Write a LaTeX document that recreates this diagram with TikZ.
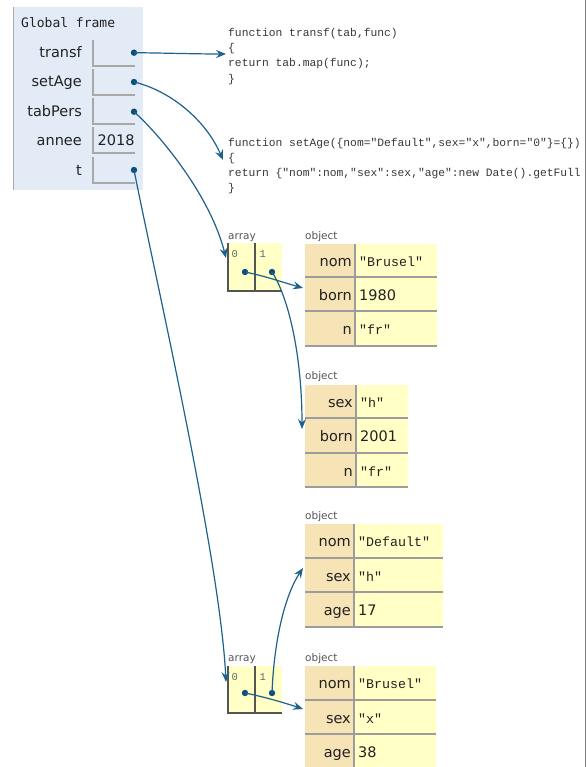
\documentclass[tikz,border=0pt]{standalone}
\usepackage{fontspec}
\setmainfont{DejaVu Sans}
\setmonofont{Liberation Mono}
\newfontfamily\titlefont{DejaVu Sans Mono}
\usetikzlibrary{arrows.meta}
\definecolor{framebg}{HTML}{E2EBF6}
\definecolor{keybg}{HTML}{F6E3B6}
\definecolor{valbg}{HTML}{FFFFC6}
\definecolor{arrowc}{HTML}{1E628C}
\definecolor{dotc}{HTML}{0B4E7A}
\definecolor{boxbd}{HTML}{A8A8A8}
\definecolor{sepc}{HTML}{9C9C9C}
\definecolor{arrbd}{HTML}{555555}
\definecolor{txtc}{HTML}{222222}
\definecolor{codec}{HTML}{383838}
\definecolor{lblc}{HTML}{555555}
\definecolor{idxc}{HTML}{666666}
\newcommand\pyrow[8]{%
  \fill[keybg] (#2,#5) rectangle (#3,#6);
  \fill[valbg] (#3,#5) rectangle (#4,#6);
  \draw[sepline] (#3,#5) -- (#3,#6);
  \draw[sepline] (#2,#6-0.8) -- (#4,#6-0.8);
  \node[keytxt] (#1k) at (#3-3,{(#5+#6)/2+5.3}) {#7};
  \node[valtxt] (#1v) at (#3+4,{(#5+#6)/2+5.3}) {#8};
}
\begin{document}
\begin{tikzpicture}[x=1pt,y=-1pt,
  vname/.style={anchor=base east,font=\fontsize{14.5}{17}\selectfont,text=txtc,inner sep=0pt},
  keytxt/.style={anchor=base east,font=\fontsize{14.5}{17}\selectfont,text=txtc,inner sep=0pt},
  valtxt/.style={anchor=base west,font=\fontsize{14.5}{17}\selectfont,text=txtc,inner sep=0pt},
  codeln/.style={anchor=base west,font=\ttfamily\fontsize{11.3}{13}\selectfont,text=codec,inner sep=0pt},
  typelbl/.style={anchor=base west,font=\fontsize{10.5}{12}\selectfont,text=lblc,inner sep=0pt},
  idxlbl/.style={anchor=base west,font=\ttfamily\fontsize{10.5}{12}\selectfont,text=idxc,inner sep=0pt},
  dot/.style={circle,fill=dotc,inner sep=0pt,minimum size=6.4pt},
  ptr/.style={draw=arrowc,line width=1.2pt,-{Stealth[length=10pt,width=8pt,inset=3.5pt]}},
  boxline/.style={draw=boxbd,line width=1.3pt},
  sepline/.style={draw=sepc,line width=1.6pt},
  arrline/.style={draw=arrbd,line width=1.2pt}]
\useasboundingbox (0,0) rectangle (587,767);
\fill[white] (0,0) rectangle (587,767);
\draw[draw=gray,line width=1pt] (585.5,0) -- (585.5,767);

% ---- Global frame ----
\fill[framebg] (13,7) rectangle (143,190);
\draw[boxline] (13.6,7) -- (13.6,190);
\node[anchor=base west,font=\titlefont\fontsize{13}{15}\selectfont,text=txtc,inner sep=0pt] (gf) at (21,27.5) {Global frame};

\draw[boxline] (93,40) -- (93,66) -- (135,66);
\draw[boxline] (93,69) -- (93,95) -- (135,95);
\draw[boxline] (93,98) -- (93,124) -- (135,124);
\draw[boxline] (93,127) -- (93,153) -- (135,153);
\draw[boxline] (93,157) -- (93,183) -- (135,183);

\node[vname] (vtransf) at (82,58) {transf};
\node[vname] (vsetage) at (82,87) {setAge};
\node[vname] (vtabpers) at (82,117) {tabPers};
\node[vname] (vannee) at (82,146) {annee};
\node[vname] (vt) at (82,175.3) {t};
\node[valtxt] (vanneeval) at (97.5,146) {2018};

\node[dot] (dtransf) at (134,52.7) {};
\node[dot] (dsetage) at (134,82) {};
\node[dot] (dtabpers) at (134,111.7) {};
\node[dot] (dt) at (134,170) {};

% ---- code of the functions ----
\node[codeln] (c11) at (228,36.5) {function transf(tab,func)};
\node[codeln] (c12) at (228,51.7) {\{};
\node[codeln] (c13) at (228,66.9) {return tab.map(func);};
\node[codeln] (c14) at (228,82.1) {\}};

\node[codeln] (c21) at (228,146.2) {function setAge(\{nom="Default",sex="x",born="0"\}=\{\})};
\node[codeln] (c22) at (228,161.4) {\{};
\node[codeln] (c23) at (228,176.6) {return \{"nom":nom,"sex":sex,"age":new Date().getFull};
\node[codeln] (c24) at (228,191.8) {\}};

% ---- array 1 ----
\node[typelbl] (lblarr1) at (228,239.5) {array};
\fill[valbg] (228,243) rectangle (282,291);
\draw[arrline] (228,243) -- (228,291) -- (282,291);
\draw[arrline] (255,243) -- (255,291);
\node[idxlbl] (a1i0) at (231.5,257) {0};
\node[idxlbl] (a1i1) at (259.5,257) {1};
\node[dot] (a1d0) at (245,272) {};
\node[dot] (a1d1) at (272,272) {};

% ---- object 1 ----
\node[typelbl] (lblobj1) at (305,239.5) {object};
\pyrow{oa}{305}{355}{437}{244}{278}{nom}{\ttfamily\fontsize{13.3}{16}\selectfont"Brusel"}
\pyrow{ob}{305}{355}{437}{278}{312}{born}{1980}
\pyrow{oc}{305}{355}{437}{312}{347}{n}{\ttfamily\fontsize{13.3}{16}\selectfont"fr"}

% ---- object 2 ----
\node[typelbl] (lblobj2) at (305,379) {object};
\pyrow{pa}{305}{356}{408}{385}{419}{sex}{\ttfamily\fontsize{13.3}{16}\selectfont"h"}
\pyrow{pb}{305}{356}{408}{419}{454}{born}{2001}
\pyrow{pc}{305}{356}{408}{454}{488}{n}{\ttfamily\fontsize{13.3}{16}\selectfont"fr"}

% ---- object 3 ----
\node[typelbl] (lblobj3) at (305,519) {object};
\pyrow{qa}{305}{354}{443}{524}{559}{nom}{\ttfamily\fontsize{13.3}{16}\selectfont"Default"}
\pyrow{qb}{305}{354}{443}{559}{593}{sex}{\ttfamily\fontsize{13.3}{16}\selectfont"h"}
\pyrow{qc}{305}{354}{443}{593}{628}{age}{17}

% ---- array 2 ----
\node[typelbl] (lblarr2) at (228,661.5) {array};
\fill[valbg] (228,666) rectangle (282,713);
\draw[arrline] (228,666) -- (228,713) -- (282,713);
\draw[arrline] (255,666) -- (255,713);
\node[idxlbl] (a2i0) at (231.5,680) {0};
\node[idxlbl] (a2i1) at (259.5,680) {1};
\node[dot] (a2d0) at (245,693) {};
\node[dot] (a2d1) at (272,693) {};

% ---- object 4 ----
\node[typelbl] (lblobj4) at (305,661.5) {object};
\pyrow{ra}{305}{354}{436}{666}{701}{nom}{\ttfamily\fontsize{13.3}{16}\selectfont"Brusel"}
\pyrow{rb}{305}{354}{436}{701}{735}{sex}{\ttfamily\fontsize{13.3}{16}\selectfont"x"}
\pyrow{rc}{305}{354}{436}{735}{769}{age}{38}

% ---- arrow targets ----
\coordinate (ttransf) at (226,54);
\coordinate (tsetage) at (223,160);
\coordinate (ttab) at (226,258);
\coordinate (tt) at (226,682);
\coordinate (ta1c0) at (303,288);
\coordinate (ta1c1) at (302,429);
\coordinate (ta2c0) at (303,709);
\coordinate (ta2c1) at (303,568);

% ---- pointers ----
\draw[ptr] (dtransf.center) .. controls (165,53) and (195,54) .. (ttransf);
\draw[ptr] (dsetage.center) .. controls (168,90) and (205,118) .. (tsetage);
\draw[ptr] (dtabpers.center) .. controls (160,135) and (210,195) .. (ttab);
\draw[ptr] (dt.center) .. controls (158,290) and (220,560) .. (tt);
\draw[ptr] (a1d0.center) .. controls (265,276) and (285,283) .. (ta1c0);
\draw[ptr] (a1d1.center) .. controls (290,300) and (302,360) .. (ta1c1);
\draw[ptr] (a2d0.center) .. controls (265,697) and (285,703) .. (ta2c0);
\draw[ptr] (a2d1.center) .. controls (274,640) and (285,595) .. (ta2c1);
\end{tikzpicture}
\end{document}
